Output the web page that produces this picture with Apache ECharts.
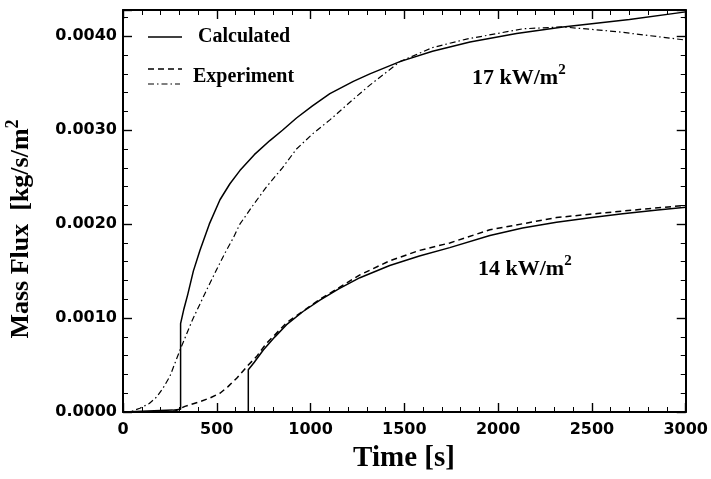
<!DOCTYPE html>
<html>
<head>
<meta charset="utf-8">
<script src="https://cdn.jsdelivr.net/npm/echarts@6/dist/echarts.min.js"></script>
<style>
  html, body { margin: 0; padding: 0; background: #fff; }
  #chart { width: 711px; height: 479px; }
</style>
</head>
<body>
<div id="chart"></div>
<script>
// --- data (time in s, mass flux in kg/s/m2) ---
var calc17T = [0, 265, 307, 307, 325, 345, 375, 410, 460, 517, 570, 623, 700, 783, 850, 925, 1010, 1103, 1228, 1316, 1476, 1650, 1850, 2098, 2345, 2700, 3000];
var calc17V = [0, 0.00002, 0.00003, 0.00094, 0.0011, 0.00125, 0.0015, 0.00172, 0.002, 0.00226, 0.00243, 0.00257, 0.00274, 0.00289, 0.003, 0.00313, 0.00326, 0.00339, 0.00352, 0.0036, 0.00373, 0.00384, 0.00394, 0.00403, 0.0041, 0.00418, 0.00426];

var exp17T = [0, 37, 90, 140, 180, 215, 250, 304, 370, 446, 500, 543, 587, 623, 700, 766, 850, 925, 1010, 1103, 1228, 1316, 1476, 1650, 1831, 2133, 2345, 2631, 3000];
var exp17V = [0, 0, 0.00004, 0.00009, 0.00016, 0.00026, 0.00038, 0.00066, 0.00098, 0.0013, 0.00152, 0.00169, 0.00185, 0.002, 0.00222, 0.0024, 0.0026, 0.0028, 0.00296, 0.00311, 0.00333, 0.00348, 0.00373, 0.00388, 0.00397, 0.00408, 0.0041, 0.00405, 0.00396];

var calc14T = [0, 668, 668, 700, 748, 810, 872, 960, 1050, 1150, 1263, 1422, 1580, 1742, 1956, 2130, 2311, 2500, 2664, 2850, 3000];
var calc14V = [0, 0, 0.00045, 0.00053, 0.00066, 0.0008, 0.00093, 0.00107, 0.00119, 0.00131, 0.00143, 0.00156, 0.00166, 0.00175, 0.00188, 0.00196, 0.00202, 0.00207, 0.00211, 0.00215, 0.00218];

var exp14T = [0, 200, 277, 330, 410, 464, 517, 560, 606, 668, 712, 760, 872, 1050, 1263, 1422, 1580, 1742, 1956, 2311, 2664, 3000];
var exp14V = [0, 0, 0.00001, 0.00006, 0.00011, 0.00015, 0.0002, 0.00027, 0.00036, 0.0005, 0.00059, 0.00072, 0.00095, 0.0012, 0.00146, 0.00161, 0.00172, 0.0018, 0.00194, 0.00207, 0.00214, 0.0022];

// axis ranges and tick spacing
var xTicks = { min: 0, max: 3000, interval: 500 };
var yTicks = { min: 0, max: 0.00428, interval: 0.001 };

function pairs(t, v) {
  var out = [];
  for (var i = 0; i < t.length; i++) out.push([t[i], v[i]]);
  return out;
}

var serif = '"Liberation Serif", "Times New Roman", serif';
var sans = '"DejaVu Sans", sans-serif';

function axisBase(pos, showLabel, r) {
  return {
    type: 'value',
    position: pos,
    min: r.min, max: r.max, interval: r.interval,
    axisLine: { show: true, onZero: false, lineStyle: { color: '#000', width: 2 } },
    axisTick: { show: true, inside: true, length: 9, lineStyle: { color: '#000', width: 1.4 } },
    minorTick: { show: true, splitNumber: 5, length: 5, lineStyle: { color: '#000', width: 1 } },
    splitLine: { show: false },
    minorSplitLine: { show: false },
    axisLabel: { show: showLabel, color: '#000', fontFamily: sans, fontWeight: 'bold', fontSize: 16 }
  };
}

var xBottom = axisBase('bottom', true, xTicks);
xBottom.axisLabel.margin = 10;
xBottom.axisLabel.formatter = function (v) { return String(v); };
var xTop = axisBase('top', false, xTicks);
var yLeft = axisBase('left', true, yTicks);
yLeft.axisLabel.margin = 6;
yLeft.axisLabel.showMaxLabel = false;
yLeft.axisLabel.formatter = function (v) { return v.toFixed(4); };
var yRight = axisBase('right', false, yTicks);

function supText(x, y, main, sup, size, rot) {
  return {
    type: 'text', x: x, y: y, rotation: rot || 0,
    style: {
      text: '{a|' + main + '}{s|' + sup + '}',
      align: rot ? 'center' : 'left',
      verticalAlign: 'middle',
      rich: {
        a: { fontFamily: serif, fontWeight: 'bold', fontSize: size, lineHeight: size + 4, verticalAlign: 'bottom', fill: '#000' },
        s: { fontFamily: serif, fontWeight: 'bold', fontSize: Math.round(size * 0.68), lineHeight: size + 4, verticalAlign: 'top', fill: '#000' }
      }
    }
  };
}

var chart = echarts.init(document.getElementById('chart'), null, { renderer: 'canvas' });
chart.setOption({
  animation: false,
  backgroundColor: '#fff',
  grid: { left: 123, right: 25, top: 10, bottom: 67, containLabel: false },
  xAxis: [xBottom, xTop],
  yAxis: [yLeft, yRight],
  series: [
    {
      name: 'Calculated 17', type: 'line', symbol: 'none',
      data: pairs(calc17T, calc17V),
      lineStyle: { color: '#000', width: 1.5 }
    },
    {
      name: 'Experiment 17', type: 'line', symbol: 'none',
      data: pairs(exp17T, exp17V),
      lineStyle: { color: '#000', width: 1.2, type: [6, 3, 1.5, 3] }
    },
    {
      name: 'Calculated 14', type: 'line', symbol: 'none',
      data: pairs(calc14T, calc14V),
      lineStyle: { color: '#000', width: 1.5 }
    },
    {
      name: 'Experiment 14', type: 'line', symbol: 'none',
      data: pairs(exp14T, exp14V),
      lineStyle: { color: '#000', width: 1.5, type: [6, 4] }
    }
  ],
  graphic: [
    // legend
    { type: 'line', shape: { x1: 148, y1: 37, x2: 182, y2: 37 }, style: { stroke: '#000', lineWidth: 1.5 } },
    { type: 'text', x: 198, y: 37, style: { text: 'Calculated', font: 'bold 20px ' + serif, fill: '#000', verticalAlign: 'middle' } },
    { type: 'line', shape: { x1: 148, y1: 69, x2: 182, y2: 69 }, style: { stroke: '#000', lineWidth: 1.3, lineDash: [6, 4] } },
    { type: 'line', shape: { x1: 148, y1: 84, x2: 180, y2: 84 }, style: { stroke: '#000', lineWidth: 1.2, lineDash: [6, 3, 1.5, 3] } },
    { type: 'text', x: 193, y: 77, style: { text: 'Experiment', font: 'bold 20px ' + serif, fill: '#000', verticalAlign: 'middle' } },
    // curve labels
    supText(472, 76, '17 kW/m', '2', 22),
    supText(478, 267, '14 kW/m', '2', 22),
    // axis titles
    supText(19, 229, 'Mass Flux  [kg/s/m', '2', 26, Math.PI / 2),
    { type: 'text', x: 404, y: 459, style: { text: 'Time [s]', font: 'bold 29px ' + serif, fill: '#000', align: 'center', verticalAlign: 'middle' } }
  ]
});

window.addEventListener('resize', function () { chart.resize(); });
</script>
</body>
</html>
